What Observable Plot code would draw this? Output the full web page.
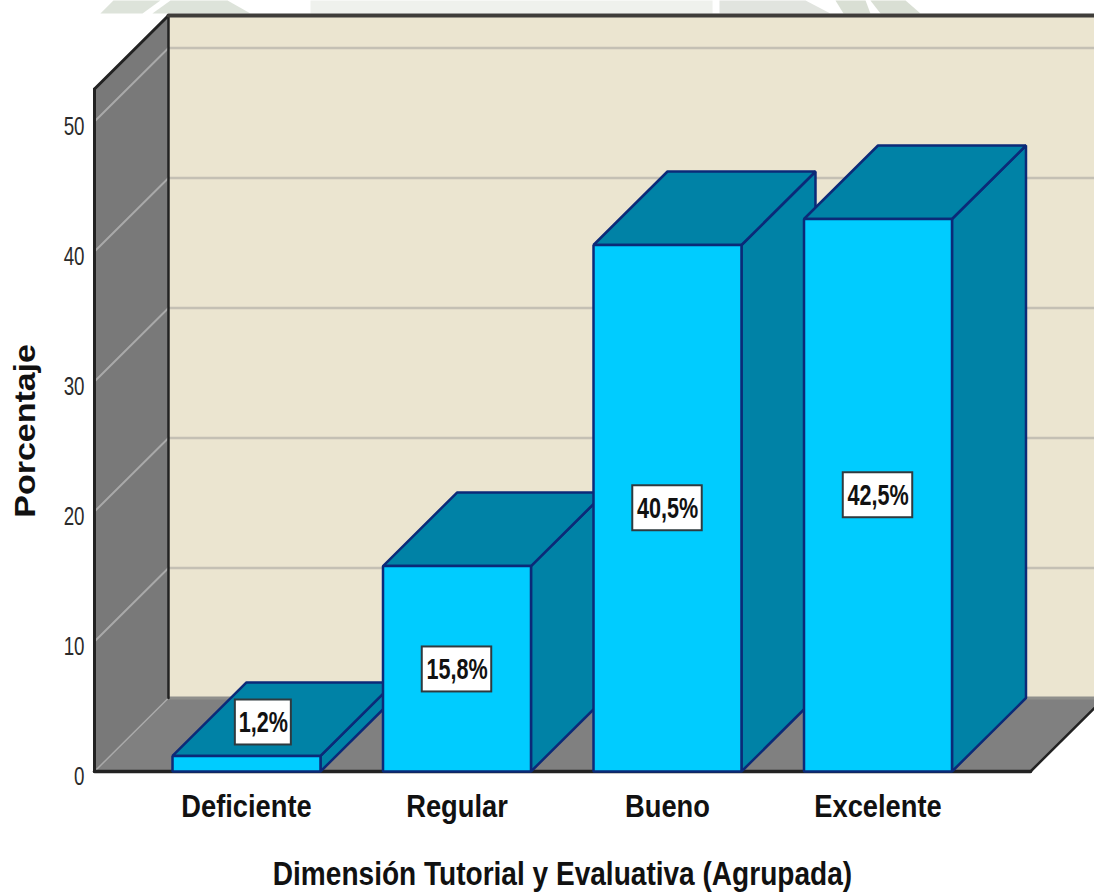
<!DOCTYPE html>
<html>
<head>
<meta charset="utf-8">
<script src="https://cdn.jsdelivr.net/npm/d3@7"></script>
<script src="https://cdn.jsdelivr.net/npm/@observablehq/plot@0.6"></script>
<style>
  html, body { margin: 0; background: #fff; }
  svg { display: block; }
  text { font-family: "Liberation Sans", Arial, sans-serif; }
</style>
</head>
<body>
<div id="chart"></div>
<script>
// Percentage per grouped level
const categories = ["Deficiente", "Regular", "Bueno", "Excelente"];
const percentages = [1.2, 15.8, 40.5, 42.5];
const valueLabels = ["1,2%", "15,8%", "40,5%", "42,5%"];
const yTicks = [0, 10, 20, 30, 40, 50];
const yTitle = "Porcentaje";
const xTitle = "Dimensión Tutorial y Evaluativa (Agrupada)";

// Callout centres, in axis units
const calloutX = [0.08, 0, 0, 0];
const calloutY = [3.77, 7.85, 20.25, 21.25];

// Oblique projection of the box, in axis units
const depthX = 0.3515;
const depthY = 5.654;
const halfBar = 0.3515;
const wallLeft = -0.7221;
const floorRight = 3.7245;
const xEnd = 4.0285;
const wallTop = 52.5;

// Background motif cropped along the top edge
const motif = [
  {fill: "#dde3da", xs: [-0.694, -0.632, -0.409, -0.494], ys: [58.31, 59.31, 59.31, 58.31]},
  {fill: "#dde3da", xs: [-0.447, -0.361, -0.09, 0.019], ys: [58.31, 59.31, 59.31, 58.31]},
  {fill: "#eff1ed", xs: [0.304, 0.304, 2.214, 2.214], ys: [58.31, 59.31, 59.31, 58.31]},
  {fill: "#e1e4df", xs: [2.247, 2.247, 2.656, 2.774], ys: [58.31, 59.31, 59.31, 58.31]},
  {fill: "#d9dfd4", xs: [2.836, 2.798, 2.941, 2.964], ys: [58.31, 59.31, 59.31, 58.31]},
  {fill: "#d9dfd4", xs: [3.012, 2.964, 3.131, 3.202], ys: [58.31, 59.31, 59.31, 58.31]}
];

const colors = {
  wall: "#ebe5d0", grid: "#c4c0b4", side: "#797979", floor: "#808080",
  sideGrid: "#a9a9a9", edge: "#222222", topEdge: "#3f3d3a",
  front: "#00ccff", shade: "#0082a6", barEdge: "#0b2a78"
};

// Closed polygon through the x and y scales
const poly = (xs, ys, options) =>
  Plot.line(xs.map((x, i) => ({x, y: ys[i]})), {x: "x", y: "y", curve: "linear-closed", ...options});

const segment = (x1, y1, x2, y2, stroke, strokeWidth) =>
  Plot.line([{x: x1, y: y1}, {x: x2, y: y2}], {x: "x", y: "y", stroke, strokeWidth});

// Each bar is a front face plus a top and a right face, painted left to right
const barMarks = categories.flatMap((_, i) => {
  const l = i - halfBar, r = i + halfBar, v = percentages[i];
  const face = {stroke: colors.barEdge, strokeWidth: 2.5, strokeLinejoin: "miter"};
  return [
    poly([r, r + depthX, r + depthX, r], [0, depthY, v + depthY, v], {fill: colors.shade, ...face}),
    poly([l, l + depthX, r + depthX, r], [v, v + depthY, v + depthY, v], {fill: colors.shade, ...face}),
    poly([l, l, r, r], [0, v, v, 0], {fill: colors.front, ...face})
  ];
});

// Value callouts
const calloutRows = categories.map((_, i) => ({
  x: i + calloutX[i],
  y: calloutY[i],
  text: valueLabels[i],
  halfW: valueLabels[i].length > 4 ? 0.165 : 0.133
}));

const plot = Plot.plot({
  width: 1094,
  height: 893,
  marginLeft: 94,
  marginRight: 0,
  marginTop: 15,
  marginBottom: 122,
  x: {domain: [wallLeft, xEnd], axis: null},
  y: {domain: [0, wallTop + depthY], axis: null},
  marks: [
    ...motif.map((m) => poly(m.xs, m.ys, {fill: m.fill})),

    // Back wall and its grid
    poly([wallLeft + depthX, wallLeft + depthX, xEnd + 0.1, xEnd + 0.1],
         [depthY, wallTop + depthY, wallTop + depthY, depthY], {fill: colors.wall}),
    Plot.ruleY(yTicks.slice(1), {
      y: (d) => d + depthY, x1: wallLeft + depthX, x2: xEnd + 0.1,
      stroke: colors.grid, strokeWidth: 2.5
    }),

    // Floor
    poly([wallLeft, wallLeft + depthX, floorRight + depthX, floorRight],
         [0, depthY, depthY, 0], {fill: colors.floor}),
    segment(wallLeft + depthX, depthY, xEnd + 0.1, depthY, "#8f8f8c", 3),

    // Left wall and its grid
    poly([wallLeft, wallLeft + depthX, wallLeft + depthX, wallLeft],
         [0, depthY, wallTop + depthY, wallTop], {fill: colors.side}),
    ...yTicks.map((t) => segment(wallLeft, t, wallLeft + depthX, t + depthY,
                                 colors.sideGrid, t === 0 ? 1.5 : 2)),

    // Box outline
    segment(wallLeft, 0, wallLeft, wallTop, colors.edge, 3),
    segment(wallLeft, wallTop, wallLeft + depthX, wallTop + depthY, colors.edge, 3),
    segment(wallLeft + depthX, depthY, wallLeft + depthX, wallTop + depthY, colors.edge, 2.5),
    segment(wallLeft + depthX, wallTop + depthY, xEnd + 0.1, wallTop + depthY, colors.topEdge, 4),
    segment(wallLeft, 0, floorRight, 0, colors.edge, 3.5),
    segment(floorRight, 0, floorRight + depthX, depthY, colors.edge, 2.5),

    ...barMarks,

    Plot.rect(calloutRows, {
      x1: (d) => d.x - d.halfW, x2: (d) => d.x + d.halfW,
      y1: (d) => d.y - 1.73, y2: (d) => d.y + 1.73,
      fill: "white", stroke: "#2f3a3f", strokeWidth: 2
    }),
    Plot.text(calloutRows, {
      x: "x", y: "y", text: "text",
      fontSize: 30, fontWeight: "bold", fill: "#111"
    }),

    // Axes
    Plot.axisY(yTicks, {
      anchor: "left", tickSize: 0, tickPadding: 10, label: null, dy: 5,
      fontSize: 25, color: "#2b2b2b"
    }),
    Plot.axisX([0, 1, 2, 3], {
      anchor: "bottom", tickSize: 0, tickPadding: 23, label: null,
      tickFormat: (i) => categories[i],
      fontSize: 31, fontWeight: "bold", color: "#111"
    }),

    // Axis titles, placed off-centre from the frame
    Plot.text([yTitle], {
      x: [-1.0466], y: [26.2], text: (d) => d, rotate: -90,
      fontSize: 29, fontWeight: "bold", fill: "#111"
    }),
    Plot.text([xTitle], {
      x: [1.501], y: [-7.92], text: (d) => d,
      fontSize: 33, fontWeight: "bold", fill: "#111"
    })
  ]
});

document.getElementById("chart").append(plot);

// Arial-style lettering drawn narrow (or, for the rotated title, drawn long)
const textScale = {
  "text": 0.72,
  "y-axis tick label": 0.75,
  "x-axis tick label": 0.88
};
const titleScale = {[yTitle]: 1.17, [xTitle]: 0.85};
d3.select(plot).selectAll("text").each(function () {
  const factor = titleScale[this.textContent] ?? textScale[this.parentNode.getAttribute("aria-label")];
  if (!factor) return;
  this.setAttribute("textLength", this.getComputedTextLength() * factor);
  this.setAttribute("lengthAdjust", "spacingAndGlyphs");
});
</script>
</body>
</html>
